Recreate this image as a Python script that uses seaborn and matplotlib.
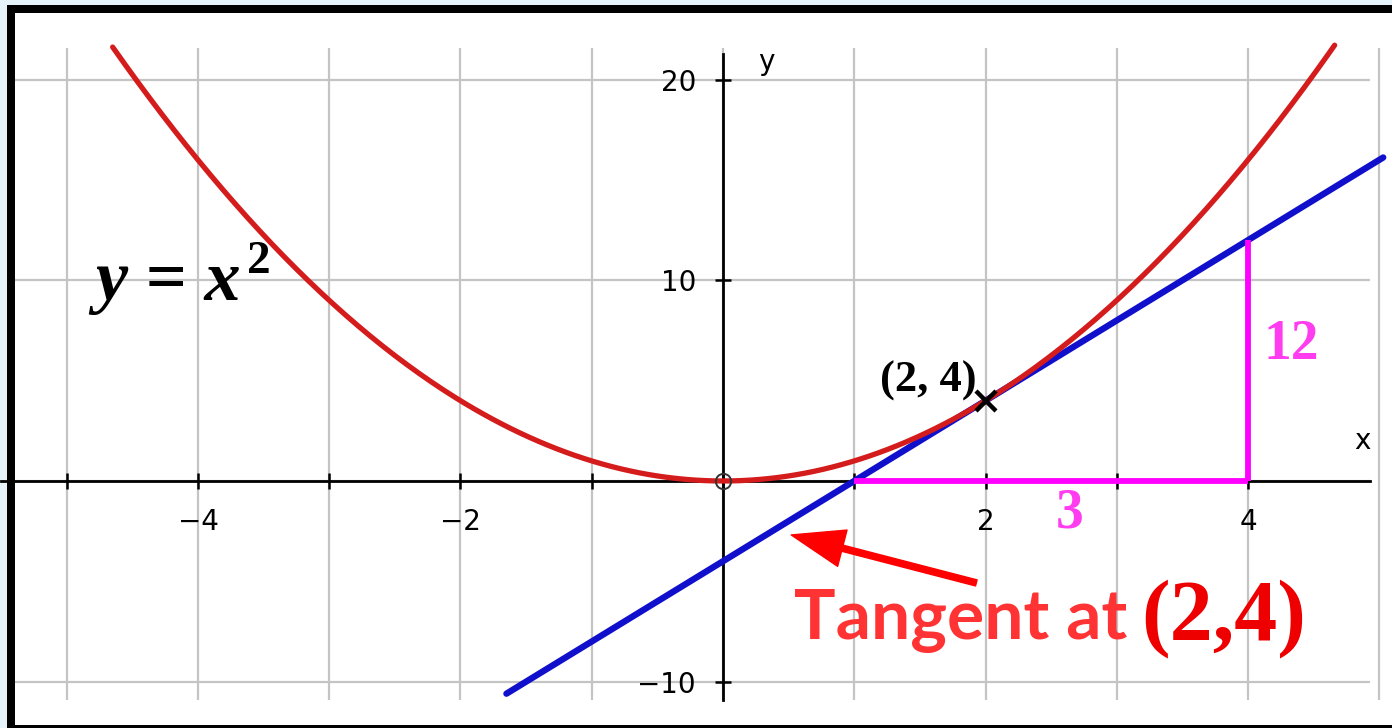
import numpy as np
import pandas as pd
import matplotlib
matplotlib.use("Agg")
import matplotlib.pyplot as plt
from matplotlib.patches import Rectangle
import seaborn as sns

# y = x^2 and its tangent at (2, 4); the tangent's gradient is rise / run
curve_x_range = [-4.65, 4.66]
tangent_point = (2, 4)
run_length = 3
rise_length = 12
tangent_x_range = [-1.65, 5.03]

x_tick_vals = [-4, -2, 2, 4]
y_tick_vals = [-10, 10, 20]
x_grid_vals = [-5, -4, -3, -2, -1, 0, 1, 2, 3, 4, 5]
y_grid_vals = [-10, 0, 10, 20]

sns.set_theme(style="white")
plt.rcParams["font.family"] = ["DejaVu Sans"]


def tick_text(v):
    return f"{v}".replace("-", "\u2212")


W, H = 1392, 728
fig = plt.figure(figsize=(W / 100, H / 100), dpi=100, facecolor="#e6f3fa")
# black frame behind the plotting area
fig.add_artist(Rectangle((7 / W, 0), 1 - 7 / W, 1 - 5 / H, transform=fig.transFigure,
                         facecolor="black", edgecolor="none", zorder=0))
ax = fig.add_axes([15 / W, 3 / H, (W - 15) / W, 712 / H])
ax.set_zorder(1)
ax.set_facecolor("white")
ax.set_xlim(-5.394, 5.097)
ax.set_ylim(-12.16, 23.32)

# light grid
ax.vlines(x_grid_vals, -10.9, 21.57, color="#c4c4c4", linewidth=1.6, zorder=0.5)
ax.hlines(y_grid_vals, -5.5, 4.93, color="#c4c4c4", linewidth=1.6, zorder=0.5)

# axes through the origin
for s in ["top", "right"]:
    ax.spines[s].set_visible(False)
ax.spines["left"].set_position(("data", 0))
ax.spines["bottom"].set_position(("data", 0))
ax.spines["left"].set_bounds(-10.9, 21.3)
ax.spines["bottom"].set_bounds(-5.5, 4.93)
for s in ["left", "bottom"]:
    ax.spines[s].set_color("black")
    ax.spines[s].set_linewidth(2.0)
    ax.spines[s].set_zorder(1)

ax.set_xticks(x_grid_vals[:-1], minor=True)
ax.set_xticks(x_tick_vals)
ax.set_xticklabels([tick_text(v) for v in x_tick_vals])
ax.set_yticks(y_tick_vals)
ax.set_yticklabels([tick_text(v) for v in y_tick_vals])
ax.tick_params(axis="both", which="both", direction="inout", length=11, width=1.8,
               color="black", labelcolor="black", labelsize=20,
               bottom=True, left=True, top=False, right=False)
ax.tick_params(axis="x", which="major", pad=14)
ax.tick_params(axis="y", which="major", pad=14)
ax.text(0.27, 20.9, "y", fontsize=20, color="black", ha="left", va="center")
ax.text(4.87, 2.0, "x", fontsize=20, color="black", ha="center", va="center")

# curves
px, py = tangent_point
slope = rise_length / run_length
curve_x = np.linspace(curve_x_range[0], curve_x_range[1], 400)
curve_df = pd.DataFrame({"x": curve_x, "y": curve_x ** 2})
tan_x = np.array(tangent_x_range)
tan_df = pd.DataFrame({"x": tan_x, "y": py + slope * (tan_x - px)})

sns.lineplot(data=tan_df, x="x", y="y", ax=ax, color="#1010cc", linewidth=4.6, zorder=3)
sns.lineplot(data=curve_df, x="x", y="y", ax=ax, color="#d41c1c", linewidth=3.8, zorder=3.5)
ax.set_xlabel("")
ax.set_ylabel("")

# gradient triangle
x_cross = px - py / slope
x_end = x_cross + run_length
ax.plot([x_cross, x_end], [0, 0], color="#ff00ff", linewidth=4.2, zorder=4, solid_capstyle="butt")
ax.plot([x_end, x_end], [0, py + slope * (x_end - px)], color="#ff00ff", linewidth=4.2,
        zorder=4, solid_capstyle="butt")
ax.text((x_cross + x_end) / 2 + 0.14, -1.6, f"{run_length}", color="#ff3cf0", fontsize=40,
        fontweight="bold", family="Liberation Serif", ha="center", va="center")
ax.text(x_end + 0.12, 6.8, f"{rise_length}", color="#ff3cf0", fontsize=40,
        fontweight="bold", family="Liberation Serif", ha="left", va="center")

# points
ax.plot([px], [py], marker="x", markersize=15, markeredgewidth=3.2, color="black", zorder=6)
ax.plot([0], [0], marker="o", markersize=11, markerfacecolor="none",
        markeredgecolor="#333333", markeredgewidth=1.4, zorder=6)
ax.text(px - 0.07, py + 0.45, f"({px}, {py})", fontsize=32, fontweight="bold",
        family="Liberation Serif", color="black", ha="right", va="baseline")

# equation label
eq = ax.text(-4.78, 9.0, "y = x", fontsize=52, fontweight="bold", fontstyle="italic",
             family="Liberation Serif", color="black", ha="left", va="baseline")
ax.annotate("2", xy=(1.0, 1.0), xycoords=eq, xytext=(4, 7), textcoords="offset points",
            fontsize=34, fontweight="bold", family="Liberation Serif", color="black",
            ha="left", va="top")

# tangent annotation
ax.annotate("", xy=(0.52, -2.69), xytext=(1.93, -5.08),
            arrowprops=dict(color="#ff0000", width=4.5, headwidth=27, headlength=38, shrink=0),
            zorder=6)
ax.text(0.54, -7.85, "Tangent at", fontsize=50, fontweight="bold", family="Lato",
        color="#ff3333", ha="left", va="baseline")
ax.text(3.19, -7.9, f"({px},{py})", fontsize=62, fontweight="bold", family="Liberation Serif",
        color="#ee0000", ha="left", va="baseline")

fig.savefig("out.png", dpi=100, facecolor=fig.get_facecolor())
